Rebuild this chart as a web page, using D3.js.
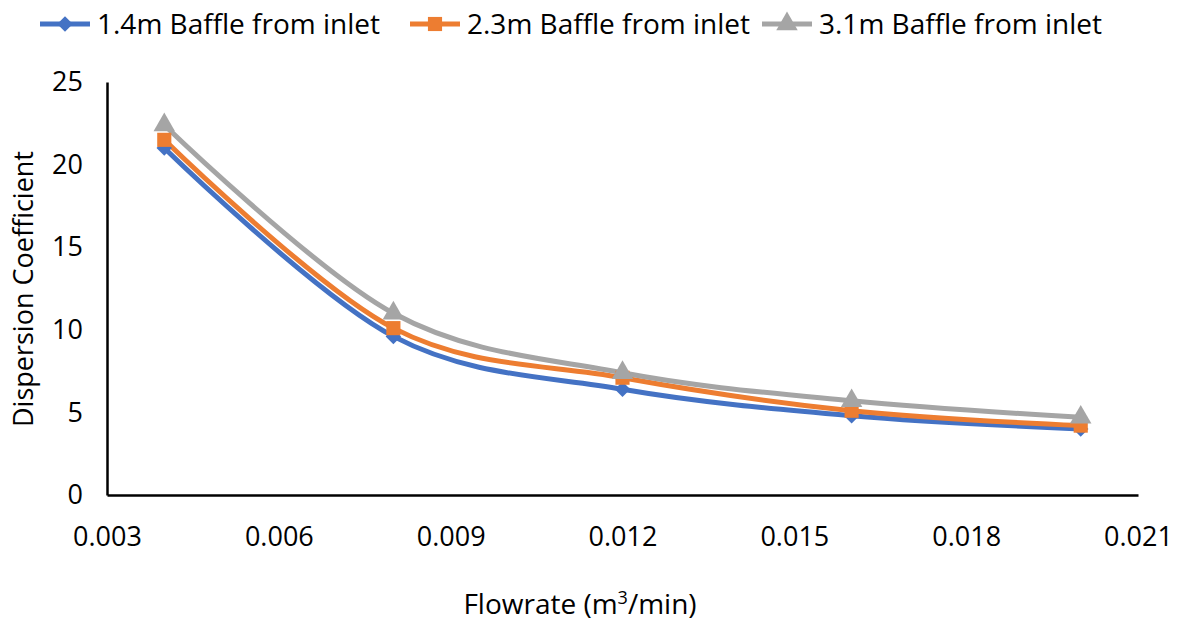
<!DOCTYPE html>
<html>
<head>
<meta charset="utf-8">
<script src="https://cdn.jsdelivr.net/npm/d3@7"></script>
<style>
  body { margin: 0; background: #fff; }
  text { font-family: "Open Sans", sans-serif; fill: #000; }
</style>
</head>
<body>
<div class="canvas"></div>
<script>
// data
const flowrates = [0.004, 0.008, 0.012, 0.016, 0.020];
const baffle14 = [21.0, 9.6, 6.4, 4.8, 4.0];
const baffle23 = [21.5, 10.1, 7.1, 5.1, 4.2];
const baffle31 = [22.4, 11.0, 7.4, 5.7, 4.7];
const seriesNames = ['1.4m Baffle from inlet', '2.3m Baffle from inlet', '3.1m Baffle from inlet'];
const xTicks = [0.003, 0.006, 0.009, 0.012, 0.015, 0.018, 0.021];
const yTicks = [0, 5, 10, 15, 20, 25];

const colors = ['#4472c4', '#ed7d31', '#a5a5a5'];
// diamond = square turned 45deg (wider than d3's own diamond)
const shapes = [d3.symbolSquare, d3.symbolSquare, d3.symbolTriangle];
const sizes = [120, 200, 200];
const rot = [45, 0, 0];
const allSeries = [baffle14, baffle23, baffle31];

const W = 1179, H = 622;
const margin = { top: 82, right: 41, bottom: 127, left: 107 };

const svg = d3.select('.canvas')
  .append('svg')
  .attr('width', W)
  .attr('height', H);

const graphWidth = W - margin.left - margin.right;
const graphHeight = H - margin.top - margin.bottom;

const graph = svg.append('g')
  .attr('transform', `translate(${margin.left}, ${margin.top})`);

//scales
const x = d3.scaleLinear().domain([0.003, 0.021]).range([0, graphWidth]);
const y = d3.scaleLinear().domain([0, 25]).range([graphHeight, 0]);

// axes
const xAxis = d3.axisBottom(x).tickValues(xTicks).tickSize(0).tickPadding(32)
  .tickFormat(d3.format('.3f'));
const yAxis = d3.axisLeft(y).tickValues(yTicks).tickSize(0).tickPadding(24);

const xAxisGroup = graph.append('g')
  .attr('transform', `translate(0, ${graphHeight})`)
  .call(xAxis);
const yAxisGroup = graph.append('g').call(yAxis);

[xAxisGroup, yAxisGroup].forEach(g => {
  g.select('.domain').attr('stroke', '#000').attr('stroke-width', 2.5);
  g.selectAll('text').style('font-size', '27px').attr('fill', '#000')
    .style('font-family', '"Open Sans", sans-serif');
});

// lines + markers
const line = d3.line()
  .x((d, i) => x(flowrates[i]))
  .y(d => y(d))
  .curve(d3.curveCatmullRom.alpha(0));

allSeries.forEach((vals, s) => {
  graph.append('path')
    .datum(vals)
    .attr('d', line)
    .attr('fill', 'none')
    .attr('stroke', colors[s])
    .attr('stroke-width', 5);
});

allSeries.forEach((vals, s) => {
  graph.selectAll('.m' + s)
    .data(vals)
    .enter()
    .append('path')
    .attr('class', 'm' + s)
    .attr('d', d3.symbol().type(shapes[s]).size(sizes[s]))
    .attr('fill', colors[s])
    .attr('transform', (d, i) => `translate(${x(flowrates[i])}, ${y(d)}) rotate(${rot[s]})`);
});

// axis titles
svg.append('text')
  .attr('x', 580).attr('y', 614)
  .attr('text-anchor', 'middle')
  .style('font-size', '28px')
  .html('Flowrate (m<tspan dy="-10" font-size="18">3</tspan><tspan dy="10">/min)</tspan>');

svg.append('text')
  .attr('transform', 'translate(33, 289) rotate(-90)')
  .attr('text-anchor', 'middle')
  .style('font-size', '27px')
  .text('Dispersion Coefficient');

// legend
const legendX = [40, 410, 762];
const legend = svg.selectAll('.legend')
  .data(seriesNames)
  .enter()
  .append('g')
  .attr('class', 'legend')
  .attr('transform', (d, i) => `translate(${legendX[i]}, 24)`);

legend.append('line')
  .attr('x1', 0).attr('x2', 50)
  .attr('stroke', (d, i) => colors[i])
  .attr('stroke-width', 5);

legend.append('path')
  .attr('d', (d, i) => d3.symbol().type(shapes[i]).size(sizes[i])())
  .attr('fill', (d, i) => colors[i])
  .attr('transform', (d, i) => `translate(25, 0) rotate(${rot[i]})`);

legend.append('text')
  .attr('x', 57).attr('y', 10)
  .style('font-size', '28px')
  .text(d => d);
</script>
</body>
</html>
